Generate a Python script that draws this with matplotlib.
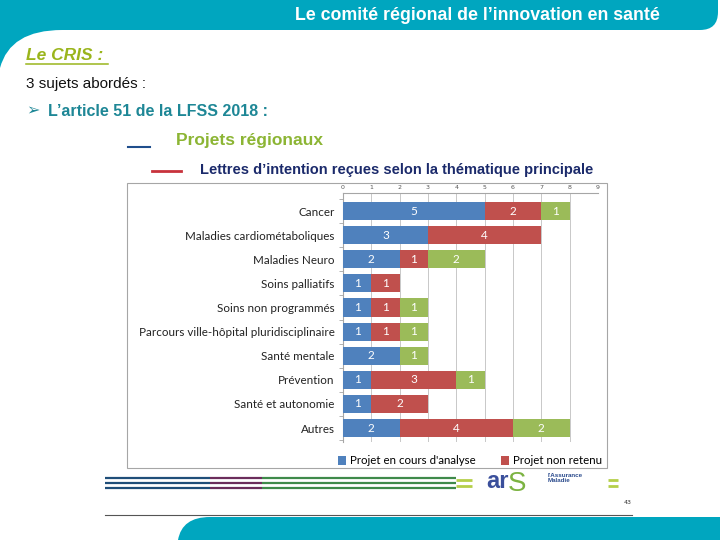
import matplotlib.pyplot as plt
from matplotlib.patches import Rectangle, PathPatch
from matplotlib.path import Path

# données du graphique
categories = ['Cancer', 'Maladies cardiométaboliques', 'Maladies Neuro',
              'Soins palliatifs', 'Soins non programmés',
              'Parcours ville-hôpital pluridisciplinaire', 'Santé mentale',
              'Prévention', 'Santé et autonomie', 'Autres']
en_cours = [5, 3, 2, 1, 1, 1, 2, 1, 1, 2]
non_retenu = [2, 4, 1, 1, 1, 1, 0, 3, 2, 4]
retenu = [1, 0, 2, 0, 1, 1, 1, 1, 0, 2]
series_labels = ["Projet en cours d'analyse", 'Projet non retenu', 'Projet retenu']
colors = ['#4f81bd', '#c0504d', '#9bbb59']
xticks = list(range(10))

teal = '#00a6bf'
fig = plt.figure(figsize=(7.2, 5.4), dpi=100)

# fond de la diapositive, en pixels
bg = fig.add_axes([0, 0, 1, 1])
bg.set_xlim(0, 720)
bg.set_ylim(540, 0)
bg.axis('off')

# bandeau du haut
verts = [(0, 0), (718, 0), (718, 12), (718, 30), (700, 30), (62, 30),
         (10, 30), (0, 68), (0, 0)]
codes = [Path.MOVETO, Path.LINETO, Path.LINETO, Path.CURVE3, Path.CURVE3,
         Path.LINETO, Path.CURVE3, Path.CURVE3, Path.CLOSEPOLY]
bg.add_patch(PathPatch(Path(verts, codes), color=teal, lw=0))
bg.text(660, 16, 'Le comité régional de l\u2019innovation en santé', color='white',
        fontsize=12.8, fontweight='bold', family='Liberation Sans',
        ha='right', va='center')

# bandeau du bas
verts = [(178, 540), (182, 517), (210, 517), (720, 517), (720, 540), (178, 540)]
codes = [Path.MOVETO, Path.CURVE3, Path.CURVE3, Path.LINETO, Path.LINETO,
         Path.CLOSEPOLY]
bg.add_patch(PathPatch(Path(verts, codes), color=teal, lw=0))
bg.plot([105, 632], [515, 515], color='#555555', lw=0.8)

# textes de la diapo
bg.text(26, 55, 'Le CRIS :', color='#9ab51c', fontsize=12.5, fontweight='bold',
        style='italic', family='Liberation Sans', va='center')
bg.plot([26, 108], [64, 64], color='#9ab51c', lw=1.1)
bg.text(26, 84, '3 sujets abordés :', color='#111111', fontsize=11,
        family='Liberation Sans', va='center')
bg.text(26, 111, '\u27a2', color='#1e8796', fontsize=11.5,
        family='DejaVu Sans', va='center')
bg.text(48, 111, 'L\u2019article 51 de la LFSS 2018 :', color='#1e8796',
        fontsize=11.5, fontweight='bold', family='Liberation Sans', va='center')

bg.plot([128, 150], [147, 147], color='#1f4e8c', lw=1.5)
bg.text(176, 140, 'Projets régionaux', color='#8cb534', fontsize=12.5,
        fontweight='bold', family='Liberation Sans', va='center')
bg.plot([152, 181], [171, 171], color='#c8323c', lw=2)
bg.text(200, 170, 'Lettres d\u2019intention reçues selon la thématique principale',
        color='#1b2a6b', fontsize=10.5, fontweight='bold',
        family='Liberation Sans', va='center')

# cadre du graphique
bg.add_patch(Rectangle((127, 183), 480, 285, fill=False, ec='#a6a6a6', lw=0.8))

# bandes du pied de page
for y in [478, 483, 488]:
    bg.plot([105, 210], [y, y], color='#1f4e79', lw=1.6, solid_capstyle='butt')
    bg.plot([210, 262], [y, y], color='#6b2d5c', lw=1.6, solid_capstyle='butt')
    bg.plot([262, 456], [y, y], color='#3f8a4a', lw=1.6, solid_capstyle='butt')
for y in [480, 486]:
    bg.plot([456, 472], [y, y], color='#b5cf4a', lw=2, solid_capstyle='butt')
    bg.plot([608, 618], [y, y], color='#b5cf4a', lw=2, solid_capstyle='butt')
bg.text(486, 482, 'ar', color='#3a4f9b', fontsize=17, fontweight='bold',
        family='Liberation Sans', va='center')
bg.text(508, 484, 'S', color='#7cb342', fontsize=20, family='Liberation Sans',
        va='center')
bg.text(548, 478, "l'Assurance\nMaladie", color='#2a4a8c', fontsize=4.5,
        fontweight='bold', family='Liberation Sans', va='center',
        linespacing=0.9)
bg.text(624, 502, '43', color='#333333', fontsize=4.5, va='center')

# graphique à barres empilées
ax = fig.add_axes([343 / 720, 1 - 442 / 540, 255 / 720, 249 / 540])
y = list(range(len(categories)))
left = [0] * len(categories)
bars = []
for vals, col, lab in zip([en_cours, non_retenu, retenu], colors, series_labels):
    b = ax.barh(y, vals, left=left, height=0.75, color=col, label=lab, zorder=3)
    bars.append(b)
    for yi, v, l in zip(y, vals, left):
        if v > 0:
            ax.text(l + v / 2, yi, str(v), color='white', fontsize=8.5,
                    family='Lato', ha='center', va='center', zorder=4)
    left = [a + b_ for a, b_ in zip(left, vals)]

ax.set_xlim(0, 9)
ax.set_ylim(9.58, -0.75)
ax.set_xticks(xticks)
ax.xaxis.tick_top()
ax.tick_params(axis='x', labelsize=4.5, labelcolor='#555555', length=0, pad=2)
ax.set_yticks(y)
ax.set_yticklabels(categories, fontsize=8.4, family='Lato', color='#222222')
ax.set_yticks([i + 0.5 for i in range(-1, len(categories))], minor=True)
ax.tick_params(axis='y', which='major', length=0, pad=6)
ax.tick_params(axis='y', which='minor', length=3, color='#a6a6a6')
ax.grid(axis='x', color='#c8c8c8', lw=0.7, zorder=0)
for s in ['right', 'bottom']:
    ax.spines[s].set_visible(False)
for s in ['top', 'left']:
    ax.spines[s].set_color('#a6a6a6')
    ax.spines[s].set_linewidth(0.8)

fig.legend(handles=bars[:2], loc='center left',
           bbox_to_anchor=(328 / 720, 1 - 461 / 540), ncol=2, frameon=False,
           prop={'family': 'Lato', 'size': 8.3},
           handlelength=0.7, handleheight=0.7, handletextpad=0.3,
           columnspacing=2.2)

fig.savefig('out.png', dpi=100)
